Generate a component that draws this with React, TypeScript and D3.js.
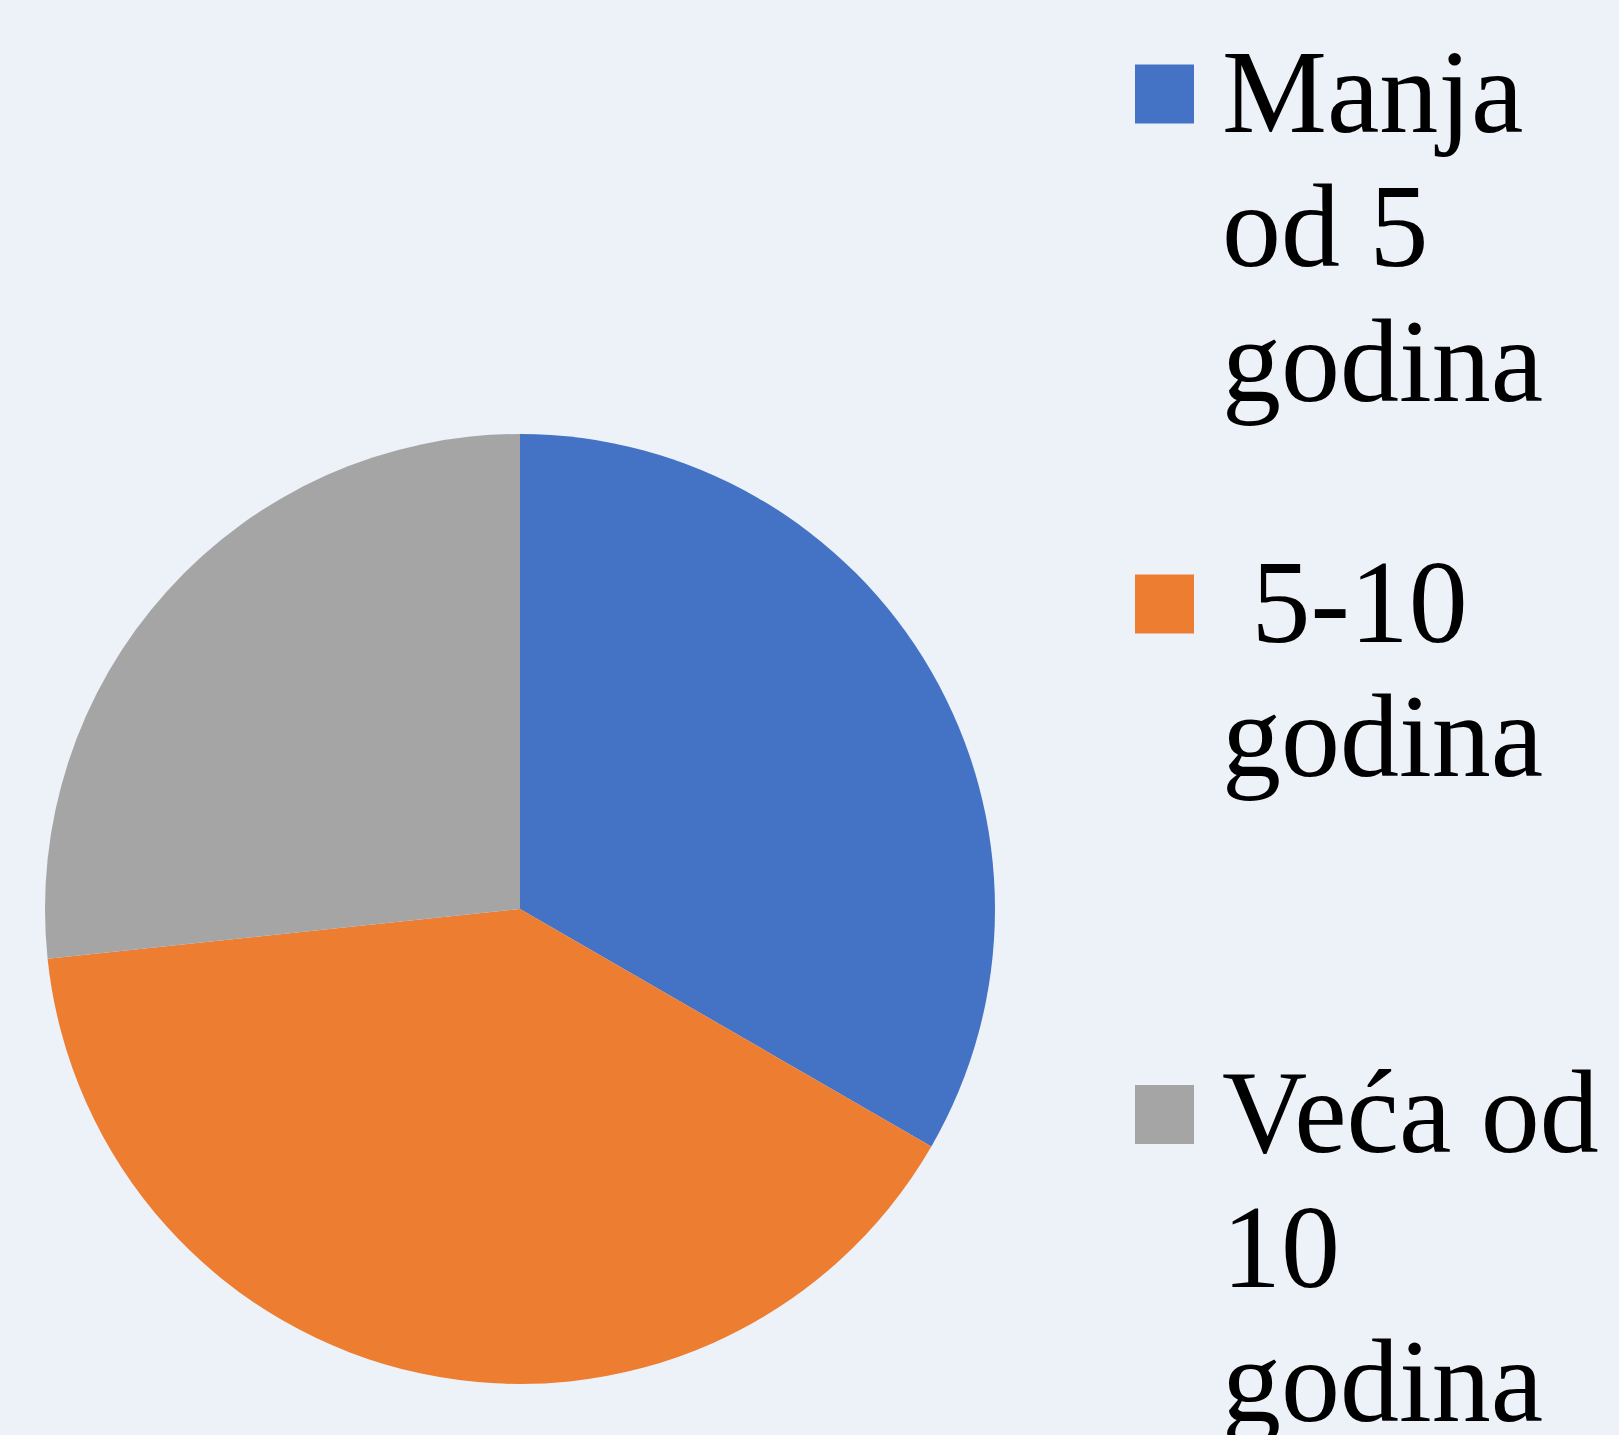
import React from "react";
import * as d3 from "d3";

const categories = ["Manja od 5 godina", " 5-10 godina", "Veća od 10 godina"];
const values = [5, 6, 4];
const legendLines = [["Manja", "od 5", "godina"], ["\u00a05-10", "godina"], ["Veća od", "10", "godina"]];
const colors = ["#4472C4", "#ED7D31", "#A5A5A5"];

export default function App() {
  const W = 1619, H = 1435;
  const cx = 520, cy = 909, r = 475;
  const pie = d3.pie<number>().sort(null).value((d) => d)(values);
  const arc = d3.arc<d3.PieArcDatum<number>>().innerRadius(0).outerRadius(r);
  const fontSize = 118;
  const lineH = 134.5;
  const legendTop = [131.5, 641.5, 1152];
  return (
    <svg width={W} height={H} style={{ position: "fixed", left: 0, top: 0 }}>
      <rect width={W} height={H} fill="#EDF2F9" />
      <g transform={`translate(${cx},${cy})`}>
        {pie.map((p, i) => (
          <path key={categories[i]} d={arc(p) || ""} fill={colors[i]} />
        ))}
      </g>
      {categories.map((c, i) => (
        <g key={c}>
          <rect x={1135} y={legendTop[i] - 67} width={59} height={59} fill={colors[i]} />
          <text
            x={1222}
            y={legendTop[i]}
            fontFamily="'Liberation Serif', 'Times New Roman', serif"
            fontSize={fontSize}
            fill="#000"
          >
            {legendLines[i].map((l, j) => (
              <tspan key={j} x={1222} y={legendTop[i] + j * lineH}>
                {l}
              </tspan>
            ))}
          </text>
        </g>
      ))}
    </svg>
  );
}
